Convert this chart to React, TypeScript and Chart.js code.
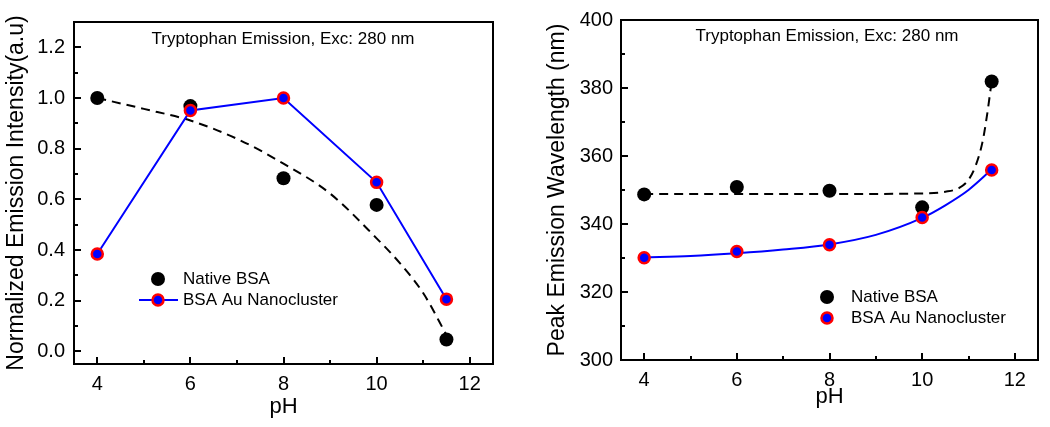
import React, { useEffect, useRef } from "react";
import { Chart, registerables } from "chart.js";

Chart.register(...registerables);

const FONT = "'Liberation Sans', Arial, Helvetica, sans-serif";

// ---------- data ----------
const phValues = [4, 6, 8, 10, 11.5];
const intensityNative = [1.0, 0.968, 0.683, 0.578, 0.047];
const intensityNano = [0.384, 0.951, 1.0, 0.667, 0.206];
const intensityFitPh = [4, 5, 6, 7, 8, 9, 10, 10.5, 11, 11.5];
const intensityFit = [1.0, 0.957, 0.911, 0.839, 0.741, 0.623, 0.446, 0.348, 0.23, 0.065];

const wlNative = [348.7, 350.9, 349.8, 344.9, 381.9];
const wlNano = [330.1, 331.9, 333.9, 341.9, 355.9];
const wlNativeFitPh = [4, 8, 10, 10.5, 10.8, 11.0, 11.15, 11.3, 11.4, 11.5];
const wlNativeFit = [348.8, 348.8, 349.0, 349.5, 350.6, 353, 357, 364, 372, 382];
const wlNanoFitPh = [4, 5, 6, 7, 8, 9, 10, 10.5, 11, 11.5];
const wlNanoFit = [330.2, 330.6, 331.4, 332.5, 334.0, 336.8, 341.8, 345.5, 350, 356];

const phMajorTicks = [4, 6, 8, 10, 12];
const phMinorTicks = [5, 7, 9, 11];
const intensityMajorTicks = [0, 0.2, 0.4, 0.6, 0.8, 1.0, 1.2];
const intensityMinorTicks = [0.1, 0.3, 0.5, 0.7, 0.9, 1.1];
const wlMajorTicks = [300, 320, 340, 360, 380, 400];
const wlMinorTicks = [310, 330, 350, 370, 390];

const titleText = "Tryptophan Emission, Exc: 280 nm";
const legendLabels = ["Native BSA", "BSA Au Nanocluster"];
const xTitle = "pH";
const yTitleLeft = "Normalized Emission Intensity(a.u)";
const yTitleRight = "Peak Emission Wavelength (nm)";

const BLUE = "#0000ff";
const RED = "#ff0000";
const BLACK = "#000000";

function pts(xs: number[], ys: number[]) {
  return xs.map((x, i) => ({ x, y: ys[i] }));
}

const framePlugin = {
  id: "frame",
  afterDatasetsDraw(chart: any, _args: any, opts: any) {
    const { ctx, chartArea } = chart;
    const { left, top, right, bottom } = chartArea;
    const xs = chart.scales.x;
    const ys = chart.scales.y;
    ctx.save();
    ctx.strokeStyle = BLACK;
    ctx.lineWidth = 2;
    const tick = (x1: number, y1: number, x2: number, y2: number) => {
      ctx.beginPath();
      ctx.moveTo(x1, y1);
      ctx.lineTo(x2, y2);
      ctx.stroke();
    };
    (opts.xMajor || []).forEach((v: number) => {
      const p = Math.round(xs.getPixelForValue(v));
      tick(p, bottom, p, bottom - 7);
    });
    (opts.xMinor || []).forEach((v: number) => {
      const p = Math.round(xs.getPixelForValue(v));
      tick(p, bottom, p, bottom - 4);
    });
    (opts.yMajor || []).forEach((v: number) => {
      const p = Math.round(ys.getPixelForValue(v));
      tick(left, p, left + 7, p);
    });
    (opts.yMinor || []).forEach((v: number) => {
      const p = Math.round(ys.getPixelForValue(v));
      tick(left, p, left + 4, p);
    });
    ctx.strokeRect(left, top, right - left, bottom - top);

    // inner title
    ctx.fillStyle = BLACK;
    ctx.font = `17px ${FONT}`;
    ctx.textAlign = "center";
    ctx.textBaseline = "middle";
    ctx.fillText(opts.title, opts.titleX, opts.titleY);

    // legend
    const lg = opts.legend;
    ctx.textAlign = "left";
    ctx.font = `17px ${FONT}`;
    ctx.beginPath();
    ctx.fillStyle = BLACK;
    ctx.arc(lg.mx, lg.y1, 7, 0, Math.PI * 2);
    ctx.fill();
    ctx.fillText(legendLabels[0], lg.tx, lg.y1);
    if (lg.line) {
      ctx.strokeStyle = BLUE;
      ctx.lineWidth = 2;
      tick(lg.mx - 19, lg.y2, lg.mx + 20, lg.y2);
    }
    ctx.beginPath();
    ctx.arc(lg.mx, lg.y2, 5.5, 0, Math.PI * 2);
    ctx.fillStyle = BLUE;
    ctx.fill();
    ctx.strokeStyle = RED;
    ctx.lineWidth = 2.5;
    ctx.stroke();
    ctx.fillStyle = BLACK;
    ctx.fillText(legendLabels[1], lg.tx, lg.y2);
    ctx.restore();
  },
};

function makeScales(cfg: any) {
  return {
    x: {
      type: "linear",
      min: 3.5,
      max: 12.5,
      afterFit(scale: any) {
        scale.height = cfg.xHeight;
      },
      afterBuildTicks(axis: any) {
        axis.ticks = phMajorTicks.map((v) => ({ value: v }));
      },
      grid: { display: false, drawTicks: false },
      border: { display: false },
      ticks: {
        color: BLACK,
        font: { family: FONT, size: 20 },
        padding: cfg.xTickPad,
        maxRotation: 0,
        autoSkip: false,
        callback: (v: any) => String(v),
      },
      title: {
        display: true,
        text: xTitle,
        color: BLACK,
        font: { family: FONT, size: 22 },
        padding: { top: cfg.xTitlePad, bottom: cfg.xTitlePad },
      },
    },
    y: {
      type: "linear",
      min: cfg.yMin,
      max: cfg.yMax,
      afterFit(scale: any) {
        scale.width = cfg.yWidth;
      },
      afterBuildTicks(axis: any) {
        axis.ticks = cfg.yMajor.map((v: number) => ({ value: v }));
      },
      grid: { display: false, drawTicks: false },
      border: { display: false },
      ticks: {
        color: BLACK,
        font: { family: FONT, size: 20 },
        padding: cfg.yTickPad,
        autoSkip: false,
        callback: cfg.yFmt,
      },
      title: {
        display: true,
        text: cfg.yTitle,
        color: BLACK,
        font: { family: FONT, size: 23 },
        padding: { top: cfg.yTitlePad, bottom: cfg.yTitlePad },
      },
    },
  };
}

function LeftChart() {
  const ref = useRef<HTMLCanvasElement | null>(null);
  useEffect(() => {
    if (!ref.current) return;
    const chart = new Chart(ref.current, {
      type: "scatter",
      data: {
        datasets: [
          {
            label: legendLabels[1],
            data: pts(phValues, intensityNano),
            showLine: true,
            borderColor: BLUE,
            borderWidth: 2,
            pointRadius: 5.5,
            pointBackgroundColor: BLUE,
            pointBorderColor: RED,
            pointBorderWidth: 2.5,
          },
          {
            label: legendLabels[0],
            data: pts(phValues, intensityNative),
            showLine: false,
            pointRadius: 7,
            pointBackgroundColor: BLACK,
            pointBorderWidth: 0,
            borderColor: BLACK,
          },
          {
            label: "fit",
            data: pts(intensityFitPh, intensityFit),
            showLine: true,
            borderColor: BLACK,
            borderWidth: 2,
            borderDash: [9, 6],
            pointRadius: 0,
            cubicInterpolationMode: "monotone",
          },
        ],
      } as any,
      options: {
        responsive: false,
        animation: false,
        layout: { padding: { top: 22, right: 32, left: 0, bottom: 0 } },
        plugins: {
          legend: { display: false },
          tooltip: { enabled: false },
          frame: {
            xMajor: phMajorTicks,
            xMinor: phMinorTicks,
            yMajor: intensityMajorTicks,
            yMinor: intensityMinorTicks,
            title: titleText,
            titleX: 283,
            titleY: 39,
            legend: { mx: 158, tx: 183, y1: 279, y2: 300, line: true },
          },
        } as any,
        scales: makeScales({
          xHeight: 63,
          xTickPad: 8,
          xTitlePad: 7,
          yMin: -0.05,
          yMax: 1.3,
          yWidth: 74,
          yTickPad: 9,
          yTitlePad: 3,
          yMajor: intensityMajorTicks,
          yFmt: (v: any) => Number(v).toFixed(1),
          yTitle: yTitleLeft,
        }) as any,
      },
      plugins: [framePlugin],
    });
    return () => chart.destroy();
  }, []);
  return <canvas ref={ref} width={525} height={427} style={{ display: "block" }} />;
}

function RightChart() {
  const ref = useRef<HTMLCanvasElement | null>(null);
  useEffect(() => {
    if (!ref.current) return;
    const chart = new Chart(ref.current, {
      type: "scatter",
      data: {
        datasets: [
          {
            label: legendLabels[1],
            data: pts(phValues, wlNano),
            showLine: false,
            pointRadius: 5.5,
            pointBackgroundColor: BLUE,
            pointBorderColor: RED,
            pointBorderWidth: 2.5,
          },
          {
            label: legendLabels[0],
            data: pts(phValues, wlNative),
            showLine: false,
            pointRadius: 7,
            pointBackgroundColor: BLACK,
            pointBorderWidth: 0,
            borderColor: BLACK,
          },
          {
            label: "nano fit",
            data: pts(wlNanoFitPh, wlNanoFit),
            showLine: true,
            borderColor: BLUE,
            borderWidth: 2,
            pointRadius: 0,
            cubicInterpolationMode: "monotone",
          },
          {
            label: "native fit",
            data: pts(wlNativeFitPh, wlNativeFit),
            showLine: true,
            borderColor: BLACK,
            borderWidth: 2,
            borderDash: [9, 6],
            pointRadius: 0,
            cubicInterpolationMode: "monotone",
          },
        ],
      } as any,
      options: {
        responsive: false,
        animation: false,
        layout: { padding: { top: 16, right: 12, left: 0, bottom: 0 } },
        plugins: {
          legend: { display: false },
          tooltip: { enabled: false },
          frame: {
            xMajor: phMajorTicks,
            xMinor: phMinorTicks,
            yMajor: wlMajorTicks,
            yMinor: wlMinorTicks,
            title: titleText,
            titleX: 302,
            titleY: 36,
            legend: { mx: 302, tx: 326, y1: 297, y2: 318, line: false },
          },
        } as any,
        scales: makeScales({
          xHeight: 67,
          xTickPad: 8,
          xTitlePad: 17,
          yMin: 300,
          yMax: 400,
          yWidth: 96,
          yTickPad: 8,
          yTitlePad: 19,
          yMajor: wlMajorTicks,
          yFmt: (v: any) => String(v),
          yTitle: yTitleRight,
        }) as any,
      },
      plugins: [framePlugin],
    });
    return () => chart.destroy();
  }, []);
  return <canvas ref={ref} width={525} height={427} style={{ display: "block" }} />;
}

export default function App() {
  return (
    <div
      style={{
        position: "fixed",
        left: 0,
        top: 0,
        width: 1050,
        height: 427,
        background: "#fff",
        display: "flex",
      }}
    >
      <LeftChart />
      <RightChart />
    </div>
  );
}
